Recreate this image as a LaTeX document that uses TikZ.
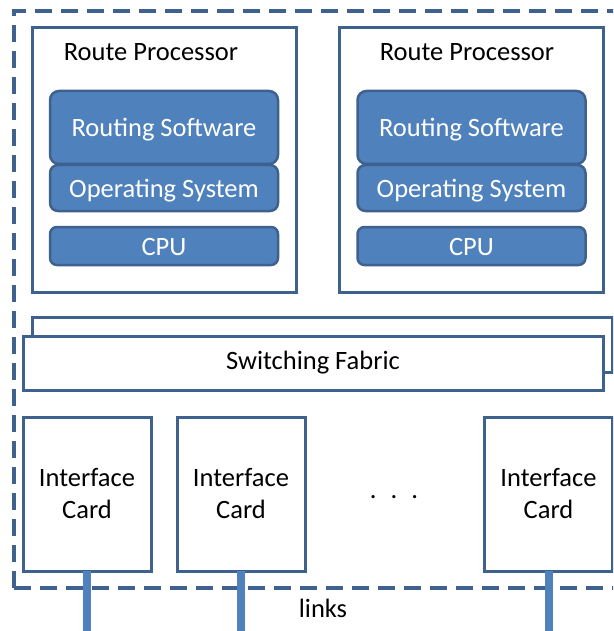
\documentclass[tikz,border=0pt]{standalone}
\usepackage{fontspec}
\setmainfont{Carlito}
\definecolor{edgeblue}{RGB}{63,97,142}
\definecolor{fillblue}{RGB}{79,129,189}
\begin{document}
\begin{tikzpicture}[x=1pt,y=-1pt,
  box/.style={draw=edgeblue, line width=3pt, fill=white, inner sep=0pt, outer sep=0pt},
  layer/.style={draw=edgeblue, line width=2.5pt, fill=fillblue, rounded corners=9pt, text=white, inner sep=0pt, outer sep=0pt, minimum width=228pt, font=\fontsize{26.5}{30}\selectfont, text height=21pt, text depth=3pt},
  lbl/.style={text=black, font=\fontsize{26.5}{30}\selectfont, inner sep=0pt},
  card/.style={box, minimum width=128pt, minimum height=154pt, align=center, font=\fontsize{26.5}{32}\selectfont},
  linkline/.style={draw=fillblue, line width=8pt},
  outer/.style={draw=edgeblue, line width=3.5pt, dash pattern=on 17pt off 9pt}]
\useasboundingbox (0,0) rectangle (613,631);
\clip (0,0) rectangle (613,631);
% outer dashed boundary
\draw[outer] (14,588) -- (14,11) -- (640,11);
\draw[outer] (14,588) -- (640,588);
% route processors
\node[box, minimum width=264pt, minimum height=264pt] (rp1) at (164,160) {};
\node[box, minimum width=264pt, minimum height=264pt] (rp2) at (471,160) {};
\node[lbl] (rp1t) at (151,52) {Route Processor};
\node[lbl] (rp2t) at (467,52) {Route Processor};
\node[layer, minimum height=73pt] (rs1) at (164,127.5) {Routing Software};
\node[layer, minimum height=46pt, rounded corners=8pt] (os1) at (164,188) {Operating System};
\node[layer, minimum height=38pt, rounded corners=7pt] (cpu1) at (164,246) {CPU};
\node[layer, minimum height=73pt] (rs2) at (471.5,127.5) {Routing Software};
\node[layer, minimum height=46pt, rounded corners=8pt] (os2) at (471.5,188) {Operating System};
\node[layer, minimum height=38pt, rounded corners=7pt] (cpu2) at (471.5,246) {CPU};
% switching fabric
\node[box, minimum width=580pt, minimum height=55pt] (sfb) at (322,344.5) {};
\node[box, minimum width=580pt, minimum height=54pt] (sf) at (313,363) {};
\node[lbl] (sft) at (sf.center) {Switching Fabric};
% interface cards
\node[card] (ic1) at (87,494) {Interface\\Card};
\node[card] (ic2) at (241,494) {Interface\\Card};
\node[card] (ic3) at (548.5,494) {Interface\\Card};
\node[lbl] (dots) at (394,497) {.\hspace{14pt}.\hspace{14pt}.};
% links
\coordinate (l1) at (87,640);
\coordinate (l2) at (241,640);
\coordinate (l3) at (548.5,640);
\draw[linkline] (ic1.south) -- (l1);
\draw[linkline] (ic2.south) -- (l2);
\draw[linkline] (ic3.south) -- (l3);
\node[lbl] (links) at (323,608) {links};
\end{tikzpicture}
\end{document}
